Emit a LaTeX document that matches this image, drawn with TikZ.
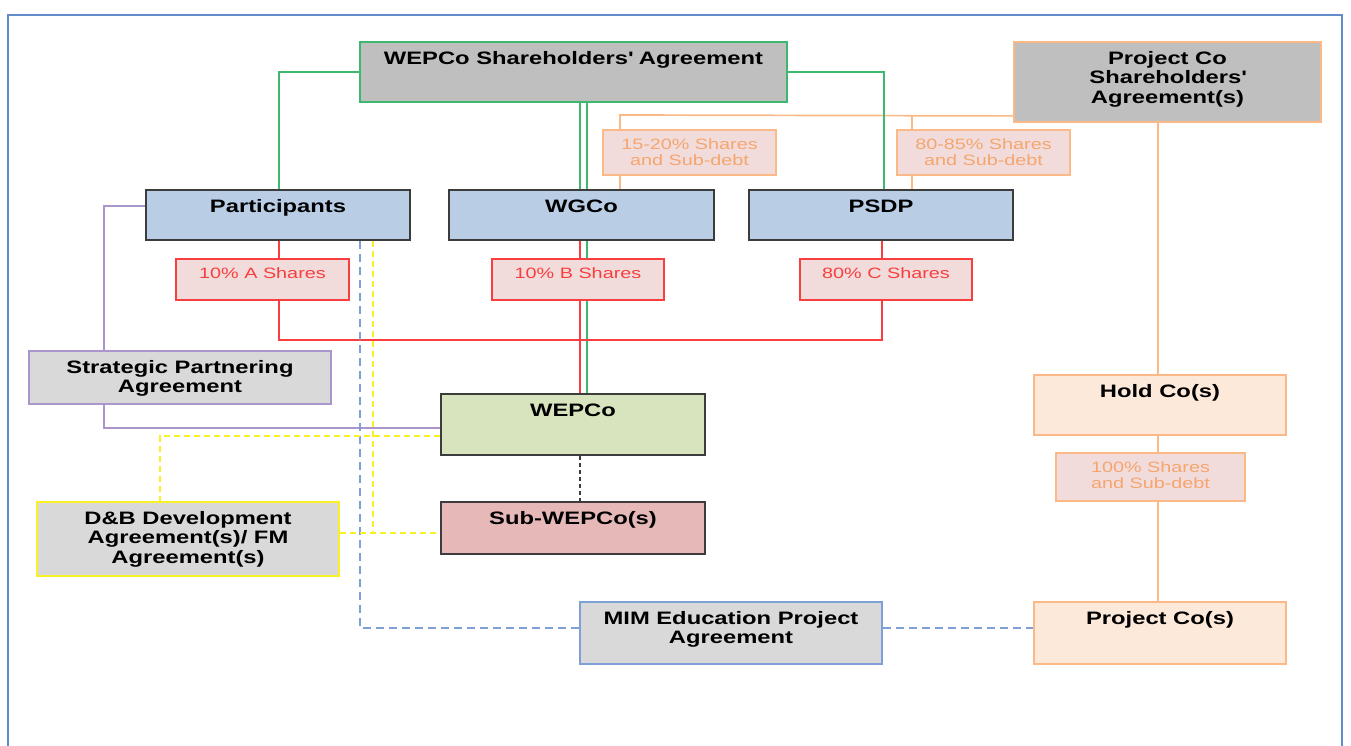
\documentclass[tikz,border=0pt]{standalone}
\usepackage{fontspec}
\setmainfont{Liberation Sans}[FakeStretch=1.32]
\usetikzlibrary{calc,backgrounds}
\definecolor{frameblue}{RGB}{100,140,205}
\definecolor{grn}{RGB}{60,185,110}
\definecolor{shagray}{RGB}{191,191,191}
\definecolor{lgray}{RGB}{217,217,217}
\definecolor{pblue}{RGB}{185,205,229}
\definecolor{dk}{RGB}{60,60,60}
\definecolor{org}{RGB}{250,185,135}
\definecolor{orgtxt}{RGB}{245,165,110}
\definecolor{lblfill}{RGB}{242,220,219}
\definecolor{rd}{RGB}{248,62,62}
\definecolor{wgreen}{RGB}{215,228,189}
\definecolor{subred}{RGB}{230,185,184}
\definecolor{peach}{RGB}{253,233,217}
\definecolor{purp}{RGB}{170,150,205}
\definecolor{yel}{RGB}{250,240,40}
\definecolor{dblue}{RGB}{125,160,215}
\newcommand\btxt[3]{\parbox[c][#2pt][t]{#1pt}{\centering\vspace*{8.5pt}\strut#3\par}}
\begin{document}
\begin{tikzpicture}[x=1pt,y=-1pt,
  bx/.style={draw, line width=1.8pt, inner sep=0pt, font=\bfseries\fontsize{18}{19.5}\selectfont},
  lbl/.style={draw, line width=1.7pt, inner sep=0pt, fill=lblfill, font=\fontsize{15}{16}\selectfont},
  ln/.style={line width=1.7pt},
  ydash/.style={ln, yel, dash pattern=on 6pt off 4pt},
  bdash/.style={ln, dblue, dash pattern=on 8pt off 5pt},
  kdash/.style={ln, dk, dash pattern=on 4pt off 3pt}]
\useasboundingbox (0,0) rectangle (1351,746);
\clip (0,0) rectangle (1351,746);

% boxes
\node[bx, draw=grn, fill=shagray] (sha) at (573.5,72) {\btxt{427}{60}{WEPCo Shareholders\textquotesingle\ Agreement}};
\node[bx, draw=org, fill=shagray] (pcsha) at (1167.5,82) {\btxt{307}{80}{Project Co\\Shareholders\textquotesingle\\Agreement(s)}};
\node[bx, draw=dk, fill=pblue] (part) at (278,215) {\btxt{264}{50}{Participants}};
\node[bx, draw=dk, fill=pblue] (wgco) at (581.5,215) {\btxt{265}{50}{WGCo}};
\node[bx, draw=dk, fill=pblue] (psdp) at (881,215) {\btxt{264}{50}{PSDP}};
\node[lbl, draw=org, text=orgtxt] (l1520) at (689.5,152.5) {\btxt{173}{45}{15-20\% Shares\\and Sub-debt}};
\node[lbl, draw=org, text=orgtxt] (l8085) at (983.5,152.5) {\btxt{173}{45}{80-85\% Shares\\and Sub-debt}};
\node[lbl, draw=rd, text=rd] (la) at (262.5,279.5) {\btxt{173}{41}{10\% A Shares}};
\node[lbl, draw=rd, text=rd] (lb) at (578,279.5) {\btxt{172}{41}{10\% B Shares}};
\node[lbl, draw=rd, text=rd] (lc) at (886,279.5) {\btxt{172}{41}{80\% C Shares}};
\node[bx, draw=purp, fill=lgray] (spa) at (180,377.5) {\btxt{302}{53}{Strategic Partnering\\Agreement}};
\node[bx, draw=dk, fill=wgreen] (wepco) at (573,424.5) {\btxt{264}{61}{WEPCo}};
\node[bx, draw=dk, fill=subred] (sub) at (573,528) {\btxt{264}{52}{Sub-WEPCo(s)}};
\node[bx, draw=yel, fill=lgray] (db) at (188,539) {\btxt{302}{74}{D\&B Development\\Agreement(s)/ FM\\Agreement(s)}};
\node[bx, draw=dblue, fill=lgray] (mim) at (731,633) {\btxt{302}{62}{MIM Education Project\\Agreement}};
\node[bx, draw=org, fill=peach] (hold) at (1160,405) {\btxt{252}{60}{Hold Co(s)}};
\node[lbl, draw=org, text=orgtxt] (l100) at (1150.5,477) {\btxt{189}{48}{100\% Shares\\and Sub-debt}};
\node[bx, draw=org, fill=peach] (pco) at (1160,633) {\btxt{252}{62}{Project Co(s)}};

% helper coordinates
\coordinate (o1) at (620,115);
\coordinate (o2) at (912,115);
\coordinate (pv) at (1158,0);
\coordinate (gx) at (884,0);
\coordinate (g1) at (580,0);
\coordinate (g2) at (587,0);
\coordinate (ra) at (279,0);
\coordinate (rc) at (882,0);
\coordinate (ry) at (0,340);
\coordinate (px) at (104,0);
\coordinate (yx) at (373,0);
\coordinate (yy) at (0,533);
\coordinate (yx2) at (160,0);
\coordinate (bx1) at (360,0);
\coordinate (kx) at (580,0);

\begin{pgfonlayer}{background}
\fill[white] (0,0) rectangle (1351,746);
\draw[frameblue, line width=1.8pt] (8,15) rectangle (1342,790);
% orange
\draw[ln, org] ([yshift=7pt]pcsha.south west) -- (o1) -- (o1 |- wgco.north);
\draw[ln, org] (o2) -- (o2 |- psdp.north);
\draw[ln, org] (pv |- pcsha.south) -- (pv |- hold.north);
\draw[ln, org] (pv |- hold.south) -- (pv |- pco.north);
% green
\draw[ln, grn] (sha.west) -| (ra |- part.north);
\draw[ln, grn] (sha.east) -| (gx |- psdp.north);
\draw[ln, grn] (g1 |- sha.south) -- (g1 |- wgco.north);
\draw[ln, grn] (g2 |- sha.south) -- (g2 |- wepco.north);
% red
\draw[ln, rd] (g1 |- wgco.south) -- (g1 |- wepco.north);
\draw[ln, rd] (ra |- part.south) -- (ra |- la.north);
\draw[ln, rd] (ra |- la.south) -- (ra |- ry) -- (rc |- ry) -- (rc |- lc.south);
\draw[ln, rd] (rc |- psdp.south) -- (rc |- lc.north);
% purple
\draw[ln, purp] ([yshift=9pt]part.west) -| (px |- spa.north);
\draw[ln, purp] (px |- spa.south) |- ([yshift=-3.5pt]wepco.west);
% blue dashed
\draw[bdash] (bx1 |- part.south) |- ([yshift=5pt]mim.west);
\draw[bdash] ([yshift=5pt]mim.east) -- ([yshift=5pt]mim.east -| pco.west);
% yellow dashed
\draw[ydash] (yx |- part.south) -- (yx |- yy);
\draw[ydash] (db.east |- yy) -- (sub.west |- yy);
\draw[ydash] ([yshift=-11.5pt]wepco.west) -| (yx2 |- db.north);
% black dashed
\draw[kdash] (kx |- wepco.south) -- (kx |- sub.north);
\end{pgfonlayer}
\end{tikzpicture}
\end{document}
